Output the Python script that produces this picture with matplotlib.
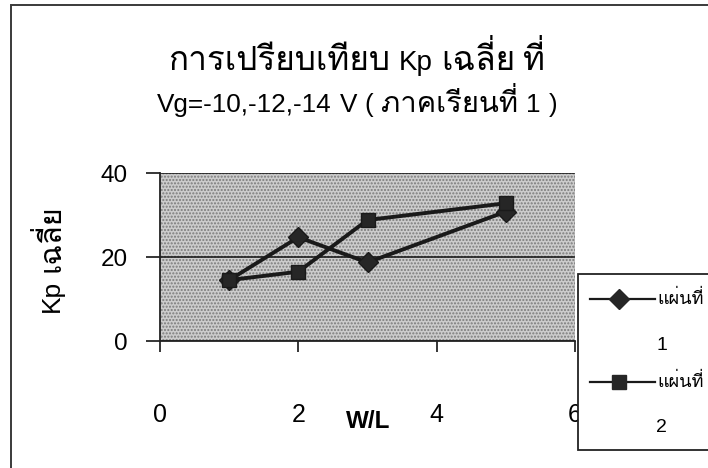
import matplotlib
matplotlib.use('Agg')
import matplotlib.pyplot as plt
from matplotlib.patches import Rectangle
from matplotlib.lines import Line2D

# ================== ฟอนต์ ==================
# Loma วางวรรณยุกต์เหนือสระบนได้ถูกตำแหน่งโดยไม่ต้องมีการจัดรูปอักษร
LATIN = ['Liberation Sans', 'DejaVu Sans']
THAI = ['Loma', 'Noto Sans Thai Looped', 'DejaVu Sans']
plt.rcParams['font.family'] = ['Liberation Sans', 'Loma', 'DejaVu Sans']

# ================== ข้อมูล ==================
x_wl = [1, 2, 3, 5]
kp_sheet1 = [14.5, 24.7, 18.7, 30.8]
kp_sheet2 = [14.5, 16.5, 28.8, 32.8]
series_names = ['แผ่นที่', 'แผ่นที่']
series_nums = ['1', '2']
x_ticks = [0, 2, 4, 6]
y_ticks = [0, 20, 40]

title1 = 'การเปรียบเทียบ Kp เฉลี่ย ที่'
title2 = 'Vg=-10,-12,-14 V ( ภาคเรียนที่ 1 )'
ylabel = 'Kp เฉลี่ย'
xlabel = 'W/L'

W, H = 708, 468
fig = plt.figure(figsize=(W / 100, H / 100), dpi=100)
fig.patch.set_facecolor('white')
renderer = fig.canvas.get_renderer()


def is_thai(s):
    return any('\u0e00' <= c <= '\u0e7f' for c in s)


def draw_runs(text, x_px, y_px, size_latin, size_thai, rotation=0, ha='center', z=3):
    """วาดข้อความผสมไทย/ละติน โดยใช้ขนาดฟอนต์ต่างกัน, x_px,y_px = จุดเส้นฐาน"""
    words = text.split(' ')
    space = 0.30 * size_latin * 100 / 72
    pieces = []
    for w in words:
        fam = THAI if is_thai(w) else LATIN
        size = size_thai if is_thai(w) else size_latin
        t = fig.text(0, 0, w, family=fam, fontsize=size, ha='left', va='baseline',
                     rotation=rotation, rotation_mode='anchor', zorder=z)
        bb = t.get_window_extent(renderer)
        pieces.append((t, bb.height if rotation else bb.width))
    total = sum(p[1] for p in pieces) + space * (len(pieces) - 1)
    pos = -total / 2 if ha == 'center' else 0
    for t, wd in pieces:
        if rotation:
            t.set_position((x_px / W, 1 - (y_px - pos) / H))
        else:
            t.set_position(((x_px + pos) / W, 1 - y_px / H))
        pos += wd + space


# กรอบนอกของแผนภูมิ
fig.patches.append(Rectangle((11 / W, -0.2), 1.2, 1.2 - 5 / H,
                             transform=fig.transFigure, facecolor='none',
                             edgecolor='#3a3a3a', linewidth=1.4, zorder=0))

ax = fig.add_axes([160 / W, 1 - 341 / H, (575 - 160) / W, (341 - 173) / H])

# พื้นหลังลายจุดสีเทา
ax.patch.set_facecolor('#cccccc')
ax.add_patch(Rectangle((0, 0), 1, 1, transform=ax.transAxes, facecolor='none',
                       edgecolor='#7a7a7a', hatch='.....', linewidth=0, zorder=0))

ax.plot(x_wl, kp_sheet1, color='#1a1a1a', linewidth=2.8, marker='D',
        markersize=10, markerfacecolor='#262626', markeredgecolor='#1a1a1a', zorder=3)
ax.plot(x_wl, kp_sheet2, color='#1a1a1a', linewidth=2.8, marker='s',
        markersize=10, markerfacecolor='#262626', markeredgecolor='#1a1a1a', zorder=3)

ax.set_xlim(0, 6)
ax.set_ylim(0, 40)
ax.set_xticks(x_ticks)
ax.set_yticks(y_ticks)
ax.yaxis.grid(True, color='#111111', linewidth=1.1)
ax.set_axisbelow(True)

for s in ['top', 'right']:
    ax.spines[s].set_visible(False)
for s in ['left', 'bottom']:
    ax.spines[s].set_color('#222222')
    ax.spines[s].set_linewidth(1.3)
ax.axvline(6, color='#808080', linewidth=1.0)

ax.tick_params(axis='y', length=10, width=1.1, labelsize=17.5, pad=13)
ax.tick_params(axis='x', length=8, width=1.1, labelsize=18, pad=37)
for lab in ax.get_xticklabels() + ax.get_yticklabels():
    lab.set_family(LATIN)

fig.text(368 / W, 1 - 421 / H, xlabel, family=LATIN, fontsize=17.5,
         fontweight='bold', ha='center', va='center')

# ชื่อแกน y และชื่อแผนภูมิ
draw_runs(ylabel, 59, 258, 19, 22, rotation=90)
draw_runs(title1, 357, 70, 20, 24)
draw_runs(title2, 357, 112, 18.8, 21)

# ================== คำอธิบายสัญลักษณ์ ==================
fig.patches.append(Rectangle((578 / W, 1 - 450 / H), 0.3, (450 - 274) / H,
                             transform=fig.transFigure, facecolor='white',
                             edgecolor='#222222', linewidth=1.3, zorder=5))
markers = ['D', 's']
for i, name in enumerate(series_names):
    yl = 299 + i * 83
    fig.add_artist(Line2D([590 / W, 655 / W], [1 - yl / H] * 2, transform=fig.transFigure,
                          color='#1a1a1a', linewidth=1.6, zorder=6))
    fig.add_artist(Line2D([619 / W], [1 - yl / H], transform=fig.transFigure,
                          marker=markers[i], markersize=10, color='#262626',
                          linestyle='none', zorder=7))
    size = 20
    t = fig.text(657 / W, 1 - yl / H, name, family=THAI, fontsize=size,
                 ha='left', va='center', zorder=7)
    while t.get_window_extent(renderer).x1 > W - 3 and size > 8:
        size -= 0.5
        t.set_fontsize(size)
    fig.text(656 / W, 1 - (yl + 46) / H, series_nums[i], family=LATIN, fontsize=14,
             ha='left', va='center', zorder=7)

fig.savefig('out.png', dpi=100, facecolor='white')
